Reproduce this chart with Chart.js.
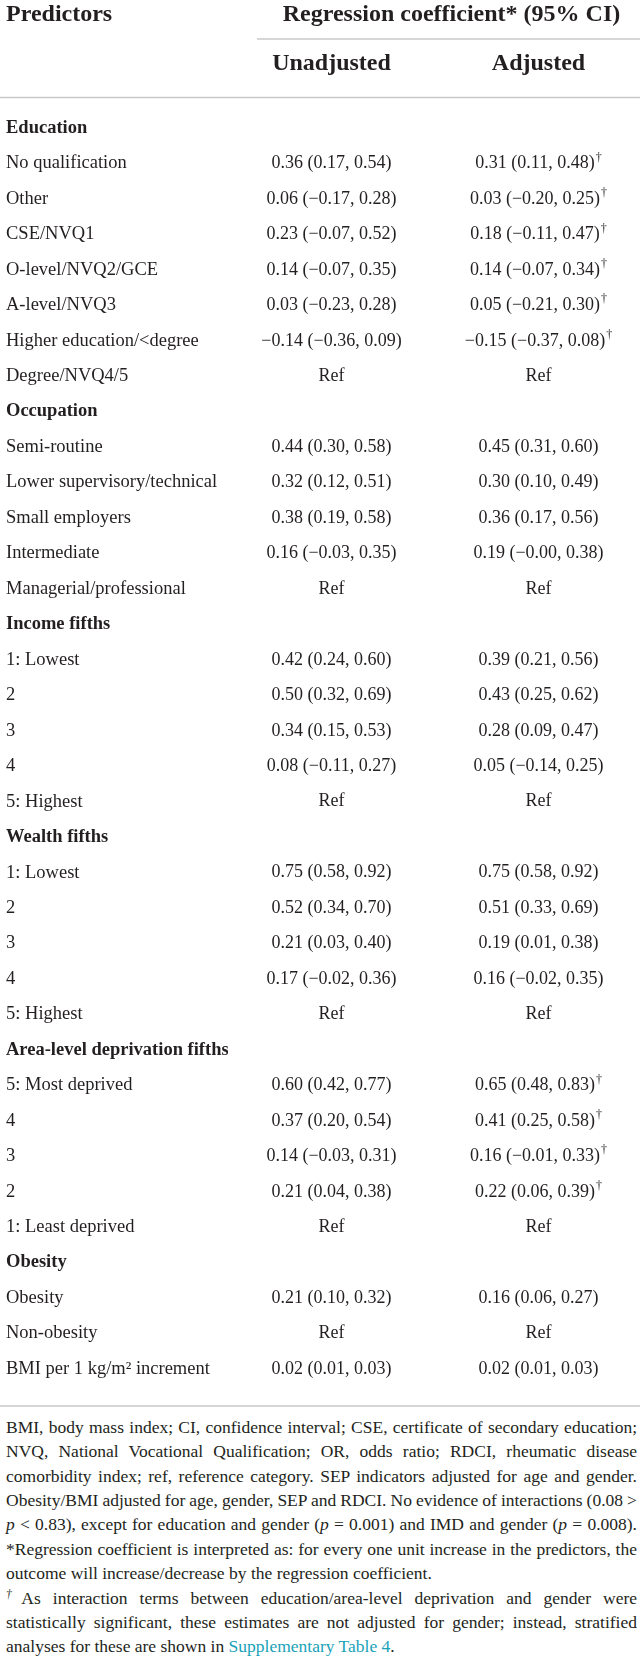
<!DOCTYPE html>
<html>
<head>
<meta charset="utf-8">
<script src="https://cdn.jsdelivr.net/npm/chart.js@4.4.1/dist/chart.umd.min.js"></script>
<style>
  html, body { margin: 0; padding: 0; background: #fff; }
  body { width: 642px; height: 1663px; position: relative; overflow: hidden; }
  #tbl { position: absolute; left: 0; top: 0; display: block; }
  #notes {
    position: absolute; left: 6px; width: 631px; top: 1414.8px;
    font-family: "Liberation Serif", "Times New Roman", serif;
    font-size: 17.5px; line-height: 24.4px; color: #231f20;
  }
  #notes .j { text-align: justify; text-align-last: justify; word-spacing: -2px; }
  #notes .l { text-align: left; }
  #notes sup { font-size: 11.5px; line-height: 0; vertical-align: 6px; }
  #notes .lnk { color: #19a2b8; }
</style>
</head>
<body>
<canvas id="tbl" width="642" height="1412"></canvas>
<div id="notes">
  <div class="j">BMI, body mass index; CI, confidence interval; CSE, certificate of secondary education;</div>
  <div class="j">NVQ, National Vocational Qualification; OR, odds ratio; RDCI, rheumatic disease</div>
  <div class="j">comorbidity index; ref, reference category. SEP indicators adjusted for age and gender.</div>
  <div class="j">Obesity/BMI adjusted for age, gender, SEP and RDCI. No evidence of interactions (0.08 &gt;</div>
  <div class="j"><i>p</i> &lt; 0.83), except for education and gender (<i>p</i> = 0.001) and IMD and gender (<i>p</i> = 0.008).</div>
  <div class="j">*Regression coefficient is interpreted as: for every one unit increase in the predictors, the</div>
  <div class="l">outcome will increase/decrease by the regression coefficient.</div>
  <div class="j"><sup><i>†</i></sup>As interaction terms between education/area-level deprivation and gender were</div>
  <div class="j">statistically significant, these estimates are not adjusted for gender; instead, stratified</div>
  <div class="l">analyses for these are shown in <span class="lnk">Supplementary Table 4</span>.</div>
</div>
<script>
// ---------------- DATA ----------------
const headerLeft = "Predictors";
const headerSpan = "Regression coefficient* (95% CI)";
const columns = ["Unadjusted", "Adjusted"];

const predictors = [
  "Education", "No qualification", "Other", "CSE/NVQ1", "O-level/NVQ2/GCE", "A-level/NVQ3",
  "Higher education/<degree", "Degree/NVQ4/5",
  "Occupation", "Semi-routine", "Lower supervisory/technical", "Small employers", "Intermediate",
  "Managerial/professional",
  "Income fifths", "1: Lowest", "2", "3", "4", "5: Highest",
  "Wealth fifths", "1: Lowest", "2", "3", "4", "5: Highest",
  "Area-level deprivation fifths", "5: Most deprived", "4", "3", "2", "1: Least deprived",
  "Obesity", "Obesity", "Non-obesity", "BMI per 1 kg/m\u00B2 increment"
];

// group-heading rows (bold)
const groupRows = [0, 8, 14, 20, 26, 32];

// [coefficient, lower CI, upper CI]; null = heading row; "Ref" = reference category
const unadjusted = [
  null, [0.36, 0.17, 0.54], [0.06, -0.17, 0.28], [0.23, -0.07, 0.52], [0.14, -0.07, 0.35],
  [0.03, -0.23, 0.28], [-0.14, -0.36, 0.09], "Ref",
  null, [0.44, 0.30, 0.58], [0.32, 0.12, 0.51], [0.38, 0.19, 0.58], [0.16, -0.03, 0.35], "Ref",
  null, [0.42, 0.24, 0.60], [0.50, 0.32, 0.69], [0.34, 0.15, 0.53], [0.08, -0.11, 0.27], "Ref",
  null, [0.75, 0.58, 0.92], [0.52, 0.34, 0.70], [0.21, 0.03, 0.40], [0.17, -0.02, 0.36], "Ref",
  null, [0.60, 0.42, 0.77], [0.37, 0.20, 0.54], [0.14, -0.03, 0.31], [0.21, 0.04, 0.38], "Ref",
  null, [0.21, 0.10, 0.32], "Ref", [0.02, 0.01, 0.03]
];

const adjusted = [
  null, [0.31, 0.11, 0.48], [0.03, -0.20, 0.25], [0.18, -0.11, 0.47], [0.14, -0.07, 0.34],
  [0.05, -0.21, 0.30], [-0.15, -0.37, 0.08], "Ref",
  null, [0.45, 0.31, 0.60], [0.30, 0.10, 0.49], [0.36, 0.17, 0.56], [0.19, -0.0, 0.38], "Ref",
  null, [0.39, 0.21, 0.56], [0.43, 0.25, 0.62], [0.28, 0.09, 0.47], [0.05, -0.14, 0.25], "Ref",
  null, [0.75, 0.58, 0.92], [0.51, 0.33, 0.69], [0.19, 0.01, 0.38], [0.16, -0.02, 0.35], "Ref",
  null, [0.65, 0.48, 0.83], [0.41, 0.25, 0.58], [0.16, -0.01, 0.33], [0.22, 0.06, 0.39], "Ref",
  null, [0.16, 0.06, 0.27], "Ref", [0.02, 0.01, 0.03]
];

// rows whose adjusted estimate carries the † footnote mark
const daggerRows = [1, 2, 3, 4, 5, 6, 27, 28, 29, 30];

// ---------------- RENDERING ----------------
const FONT = '"Liberation Serif", "Times New Roman", serif';
const TEXT = "#231f20";
const RULE = "#c9c9c9";

function fmt(v) {
  const neg = v < 0 || Object.is(v, -0);
  return (neg ? "\u2212" : "") + Math.abs(v).toFixed(2);
}
function cellText(v) {
  if (v === "Ref") return "Ref";
  return fmt(v[0]) + " (" + fmt(v[1]) + ", " + fmt(v[2]) + ")";
}

const tablePlugin = {
  id: "tableCells",
  afterDraw(chart) {
    const { ctx, chartArea } = chart;
    const xs = chart.scales.x, ys = chart.scales.y;
    ctx.save();
    ctx.fillStyle = TEXT;
    ctx.textBaseline = "middle";

    // top header row
    const spanStart = chartArea.left + 29;
    const spanEnd = chartArea.right - 2;
    ctx.font = "bold 24px " + FONT;
    ctx.textAlign = "left";
    ctx.fillText(headerLeft, 6, 15);
    ctx.textAlign = "center";
    ctx.fillText(headerSpan, (spanStart + spanEnd) / 2 + 3, 15);

    // rules
    ctx.strokeStyle = RULE;
    ctx.lineWidth = 1.5;
    ctx.beginPath();
    ctx.moveTo(spanStart, 39); ctx.lineTo(spanEnd, 39);
    ctx.moveTo(0, chartArea.top - 12.8); ctx.lineTo(spanEnd, chartArea.top - 12.8);
    ctx.moveTo(0, chartArea.bottom + 19.2); ctx.lineTo(spanEnd, chartArea.bottom + 19.2);
    ctx.stroke();

    // cells
    const cols = [unadjusted, adjusted];
    cols.forEach((col, c) => {
      const cx = xs.getPixelForValue(c);
      col.forEach((v, i) => {
        if (v === null) return;
        const cy = ys.getPixelForValue(i);
        const txt = cellText(v);
        ctx.font = "18px " + FONT;
        const w = ctx.measureText(txt).width;
        const hasDag = c === 1 && daggerRows.includes(i);
        let dw = 0;
        if (hasDag) {
          ctx.font = "12px " + FONT;
          dw = ctx.measureText("\u2020").width + 1;
        }
        const x0 = cx - (w + dw) / 2;
        ctx.textAlign = "left";
        ctx.font = "18px " + FONT;
        ctx.fillText(txt, x0, cy);
        if (hasDag) {
          ctx.font = "12px " + FONT;
          ctx.fillText("\u2020", x0 + w + 1, cy - 6);
        }
      });
    });
    ctx.restore();
  }
};

new Chart(document.getElementById("tbl"), {
  type: "bar",
  data: { labels: predictors, datasets: [] },
  options: {
    responsive: false,
    animation: false,
    events: [],
    layout: { padding: { left: 6, right: 0, top: 0, bottom: 25.2 } },
    plugins: { legend: { display: false }, tooltip: { enabled: false }, title: { display: false } },
    scales: {
      x: {
        type: "category",
        labels: columns,
        position: "top",
        offset: true,
        grid: { display: false, drawTicks: false },
        border: { display: false },
        ticks: {
          color: TEXT,
          font: { family: FONT, size: 24, weight: "bold" },
          padding: 31.9,
          maxRotation: 0,
          autoSkip: false
        },
        afterFit(scale) { scale.height = 110.3; }
      },
      y: {
        type: "category",
        labels: predictors,
        position: "left",
        offset: true,
        grid: { display: false, drawTicks: false },
        border: { display: false },
        ticks: {
          color: TEXT,
          crossAlign: "far",
          autoSkip: false,
          padding: 0,
          font: (ctx) => ({
            family: FONT,
            size: 18.5,
            weight: groupRows.includes(ctx.index) ? "bold" : "normal"
          })
        },
        afterFit(scale) { scale.width = 222; }
      }
    }
  },
  plugins: [tablePlugin]
});
</script>
</body>
</html>
